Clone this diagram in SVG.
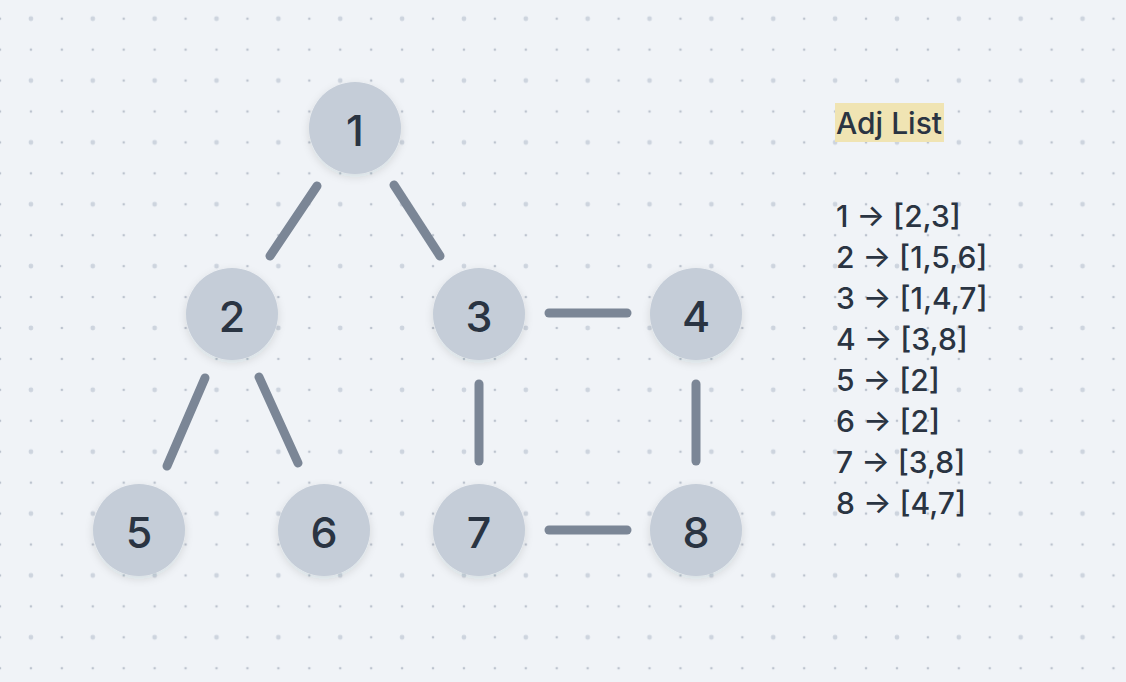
<svg xmlns="http://www.w3.org/2000/svg" width="1126" height="682" viewBox="0 0 1126 682">
<defs>
<pattern id="grid" x="0" y="18.7" width="61.86" height="61.86" patternUnits="userSpaceOnUse">
<circle cx="0" cy="0" r="1.3" fill="#bcc3ce"/>
<circle cx="61.86" cy="0" r="1.3" fill="#bcc3ce"/>
<circle cx="0" cy="61.86" r="1.3" fill="#bcc3ce"/>
<circle cx="61.86" cy="61.86" r="1.3" fill="#bcc3ce"/>
<circle cx="30.93" cy="30.93" r="1.3" fill="#bcc3ce"/>
<circle cx="0" cy="30.93" r="1.3" fill="#bcc3ce"/>
<circle cx="61.86" cy="30.93" r="1.3" fill="#bcc3ce"/>
<circle cx="30.93" cy="0" r="2.4" fill="#cdd4de"/>
<circle cx="30.93" cy="61.86" r="2.4" fill="#cdd4de"/>
</pattern>
<filter id="sh" x="-30%" y="-30%" width="160%" height="160%">
<feDropShadow dx="0" dy="3" stdDeviation="4" flood-color="#1e2a3a" flood-opacity="0.12"/>
</filter>
</defs>
<style>
.node circle{fill:#c5cdd8;filter:url(#sh)}
.node text{font-family:Inter,"Noto Sans",sans-serif;font-size:43px;font-weight:500;fill:#2a3442;text-anchor:middle}
.edge{stroke:#7b8696;stroke-width:9;stroke-linecap:round}
.adj{font-family:Inter,"Noto Sans",sans-serif;font-size:30px;font-weight:500;fill:#2a3442}
</style>
<rect width="1126" height="682" fill="#f0f3f7"/>
<rect width="1126" height="682" fill="url(#grid)"/>
<g id="connectors">
<line class="edge" x1="317" y1="186" x2="270" y2="256"/>
<line class="edge" x1="394" y1="185" x2="440" y2="256"/>
<line class="edge" x1="549" y1="313" x2="627" y2="313"/>
<line class="edge" x1="205" y1="378" x2="167" y2="466"/>
<line class="edge" x1="259" y1="377" x2="298" y2="463"/>
<line class="edge" x1="479" y1="384" x2="479" y2="461"/>
<line class="edge" x1="696" y1="384" x2="696" y2="461"/>
<line class="edge" x1="549" y1="530" x2="627" y2="530"/>
</g>
<g id="node1" class="node"><circle cx="355" cy="128" r="46"/><text x="355" y="146">1</text></g>
<g id="node2" class="node"><circle cx="232" cy="314" r="46"/><text x="232" y="332">2</text></g>
<g id="node3" class="node"><circle cx="479" cy="314" r="46"/><text x="479" y="332">3</text></g>
<g id="node4" class="node"><circle cx="696" cy="314" r="46"/><text x="696" y="332">4</text></g>
<g id="node5" class="node"><circle cx="139" cy="530" r="46"/><text x="139" y="548">5</text></g>
<g id="node6" class="node"><circle cx="324" cy="530" r="46"/><text x="324" y="548">6</text></g>
<g id="node7" class="node"><circle cx="479" cy="530" r="46"/><text x="479" y="548">7</text></g>
<g id="node8" class="node"><circle cx="696" cy="530" r="46"/><text x="696" y="548">8</text></g>
<g id="adjlist">
<rect x="835" y="103" width="109" height="39" fill="#f0e4b3"/>
<text class="adj" x="836" y="134">Adj List</text>
<text class="adj" x="836" y="227">1 → [2,3]</text>
<text class="adj" x="836" y="268">2 → [1,5,6]</text>
<text class="adj" x="836" y="309">3 → [1,4,7]</text>
<text class="adj" x="836" y="350">4 → [3,8]</text>
<text class="adj" x="836" y="391">5 → [2]</text>
<text class="adj" x="836" y="432">6 → [2]</text>
<text class="adj" x="836" y="473">7 → [3,8]</text>
<text class="adj" x="836" y="514">8 → [4,7]</text>
</g>
</svg>
